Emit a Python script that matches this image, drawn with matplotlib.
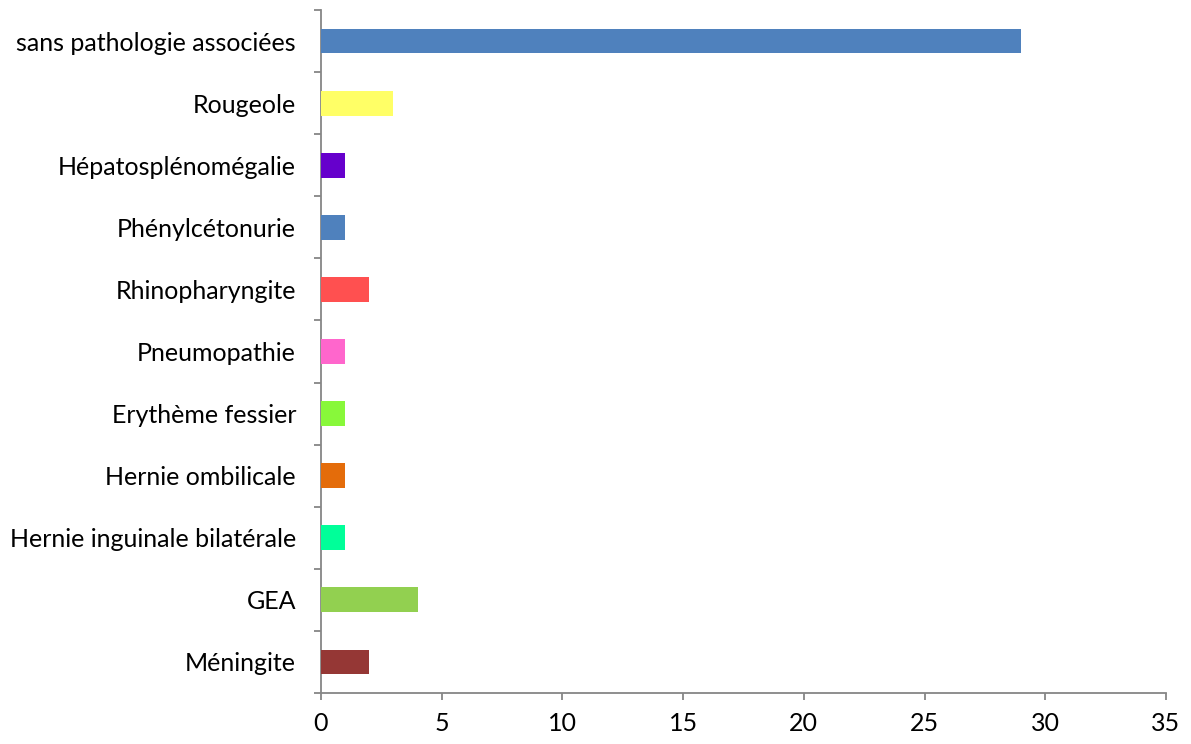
import matplotlib
matplotlib.use("Agg")
import matplotlib.pyplot as plt
import numpy as np

categories = ["Méningite", "GEA", "Hernie inguinale bilatérale", "Hernie ombilicale",
              "Erythème fessier", "Pneumopathie", "Rhinopharyngite", "Phénylcétonurie",
              "Hépatosplénomégalie", "Rougeole", "sans pathologie associées"]
values = [2, 4, 1, 1, 1, 1, 2, 1, 1, 3, 29]
colors = ["#953735", "#92D050", "#00FF99", "#E46C0A", "#88F83A", "#FF66CC",
          "#FF5050", "#4F81BD", "#6600CC", "#FFFF66", "#4F81BD"]
xticks = [0, 5, 10, 15, 20, 25, 30, 35]

plt.rcParams['font.family'] = ['Lato', 'DejaVu Sans']

fig = plt.figure(figsize=(11.91, 7.44), dpi=100)
ax = fig.add_axes([321/1191, 1-693/744, (1166-321)/1191, (693-10)/744])

y = np.arange(len(categories))
ax.barh(y, values, height=0.4, color=colors, zorder=3)

ax.set_xlim(0, 35)
ax.set_ylim(-0.5, len(categories) - 0.5)
ax.set_xticks(xticks)
ax.set_xticklabels([str(t) for t in xticks], fontsize=18)
ax.set_yticks(y)
ax.set_yticklabels(categories, fontsize=18)
ax.set_yticks(np.arange(-0.5, len(categories)), minor=True)

ax.tick_params(axis='y', which='major', length=0, pad=18)
ax.tick_params(axis='y', which='minor', length=5, width=1.3, color="#868686", direction='out')
ax.tick_params(axis='x', which='major', length=5, width=1.3, color="#868686", direction='out', pad=9)

for s in ['top', 'right']:
    ax.spines[s].set_visible(False)
for s in ['left', 'bottom']:
    ax.spines[s].set_color("#868686")
    ax.spines[s].set_linewidth(1.3)

fig.savefig("out.png", dpi=100, facecolor="white")
